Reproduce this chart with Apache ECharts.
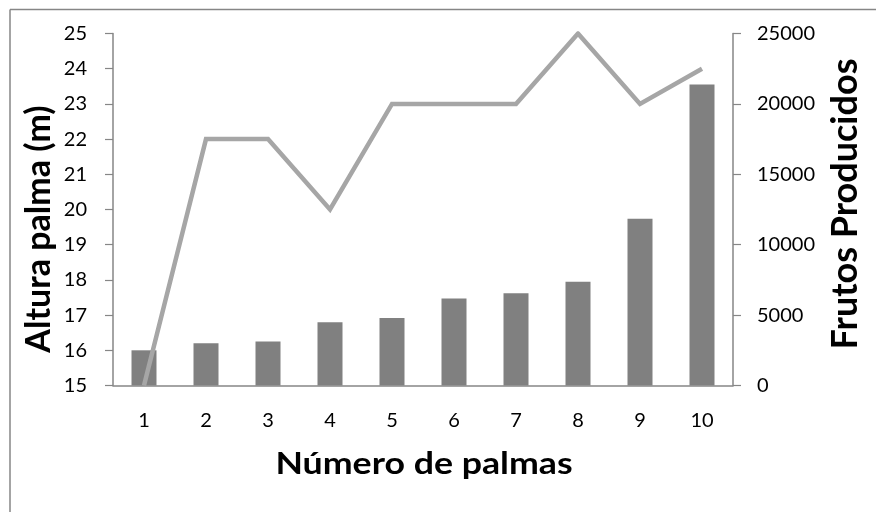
<!DOCTYPE html>
<html>
<head>
<meta charset="utf-8">
<script src="https://cdn.jsdelivr.net/npm/echarts@6/dist/echarts.min.js"></script>
<style>html,body{margin:0;padding:0;background:#fff;}#c{width:876px;height:512px;}</style>
</head>
<body>
<div id="c"></div>
<script>
const categories = ['1','2','3','4','5','6','7','8','9','10'];
const alturaPalma = [16.0, 16.2, 16.25, 16.8, 16.92, 17.47, 17.62, 17.95, 19.74, 23.55];
const frutosProducidos = [0, 17500, 17500, 12500, 20000, 20000, 20000, 25000, 20000, 22500];
const xTitle = 'Número de palmas';
const yLeftTitle = 'Altura palma (m)';
const yRightTitle = 'Frutos Producidos';

const axisGray = '#868686';
const font = 'Lato, Calibri, "Open Sans", sans-serif';
const titleStyle = (size) => ({fill: '#000', font: 'bold ' + size + 'px ' + font, align: 'center', verticalAlign: 'middle'});

const chart = echarts.init(document.getElementById('c'), null, {renderer: 'canvas'});
chart.setOption({
  animation: false,
  backgroundColor: '#ffffff',
  grid: {left: 113, right: 143, top: 33.5, bottom: 126.5, containLabel: false},
  graphic: [
    {type: 'line', shape: {x1: 10, y1: 9.5, x2: 876, y2: 9.5}, style: {stroke: axisGray, lineWidth: 1.5}},
    {type: 'line', shape: {x1: 10, y1: 9.5, x2: 10, y2: 512}, style: {stroke: axisGray, lineWidth: 1.5}},
    {type: 'text', x: 424, y: 464, scaleX: 1.19, style: Object.assign({text: xTitle}, titleStyle(30))},
    {type: 'text', x: 39, y: 229, rotation: Math.PI / 2, style: Object.assign({text: yLeftTitle}, titleStyle(34))},
    {type: 'text', x: 845, y: 204, rotation: Math.PI / 2, style: Object.assign({text: yRightTitle}, titleStyle(36))}
  ],
  xAxis: {
    type: 'category',
    data: categories,
    boundaryGap: true,
    axisLine: {show: true, lineStyle: {color: axisGray, width: 1.5}},
    axisTick: {show: false},
    axisLabel: {color: '#000', fontFamily: font, fontSize: 20, margin: 25}
  },
  yAxis: [
    {
      type: 'value', min: 15, max: 25, interval: 1, position: 'left',
      splitLine: {show: false},
      axisLine: {show: true, lineStyle: {color: axisGray, width: 1.5}},
      axisTick: {show: true, inside: false, length: 8, lineStyle: {color: axisGray, width: 1.2}},
      axisLabel: {color: '#000', fontFamily: font, fontSize: 20, margin: 26}
    },
    {
      type: 'value', min: 0, max: 25000, interval: 5000, position: 'right',
      splitLine: {show: false},
      axisLine: {show: true, lineStyle: {color: axisGray, width: 1.5}},
      axisTick: {show: true, inside: false, length: 8, lineStyle: {color: axisGray, width: 1.2}},
      axisLabel: {color: '#000', fontFamily: font, fontSize: 20, margin: 24, formatter: (v) => String(v)}
    }
  ],
  series: [
    {
      name: yLeftTitle, type: 'bar', yAxisIndex: 0,
      data: alturaPalma,
      barWidth: 25,
      itemStyle: {color: '#808080'}
    },
    {
      name: yRightTitle, type: 'line', yAxisIndex: 1,
      data: frutosProducidos,
      symbol: 'none',
      lineStyle: {color: '#a6a6a6', width: 4.5, join: 'miter'},
      z: 3
    }
  ]
});
</script>
</body>
</html>
